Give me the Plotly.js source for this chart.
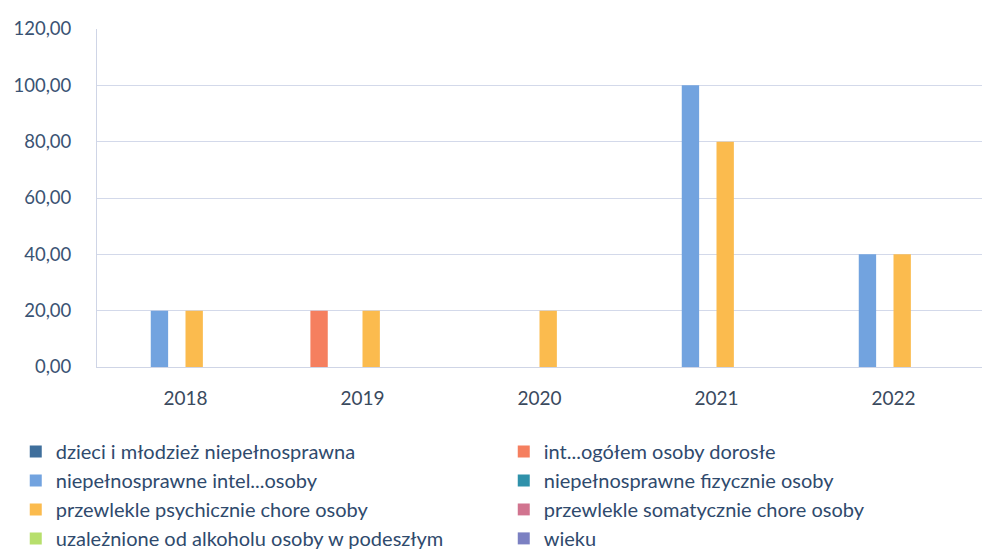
<!DOCTYPE html>
<html>
<head>
<meta charset="utf-8">
<script src="https://cdn.plot.ly/plotly-3.0.1.min.js"></script>
<style>html,body{margin:0;padding:0;background:#fff}#chart{width:982px;height:553px}</style>
</head>
<body>
<div id="chart"></div>
<script>
const years = ['2018', '2019', '2020', '2021', '2022'];
const seriesNames = [
  'dzieci i młodzież niepełnosprawna',
  'int...ogółem osoby dorosłe',
  'niepełnosprawne intel...osoby',
  'niepełnosprawne fizycznie osoby',
  'przewlekle psychicznie chore osoby',
  'przewlekle somatycznie chore osoby',
  'uzależnione od alkoholu osoby w podeszłym',
  'wieku'
];
const dzieci      = [0, 0, 0, 0, 0];
const ogolem      = [0, 20, 0, 0, 0];
const intel       = [20, 0, 0, 100, 40];
const fizycznie   = [0, 0, 0, 0, 0];
const psychicznie = [20, 20, 20, 80, 40];
const somatycznie = [0, 0, 0, 0, 0];
const alkohol     = [0, 0, 0, 0, 0];
const wieku       = [0, 0, 0, 0, 0];
const seriesValues = [dzieci, ogolem, intel, fizycznie, psychicznie, somatycznie, alkohol, wieku];
const colors = ['#3f6f9c', '#f57f5f', '#72a3df', '#2f91aa', '#fbbb4e', '#d1748f', '#b7df6c', '#7b80c2'];

const traces = seriesNames.map((name, i) => ({
  type: 'bar',
  name: name,
  x: years,
  y: seriesValues[i],
  marker: {color: colors[i], line: {width: 0}},
  hoverinfo: 'skip'
}));

const layout = {
  width: 982, height: 553,
  margin: {l: 97, r: 0, t: 29, b: 186, autoexpand: false},
  paper_bgcolor: '#ffffff', plot_bgcolor: '#ffffff',
  separators: ',.',
  font: {family: 'Lato, sans-serif', color: '#3a5373'},
  barmode: 'group',
  bargap: 0.215,
  bargroupgap: 0,
  showlegend: true,
  xaxis: {
    type: 'category',
    showgrid: false,
    showline: true, linecolor: '#cfd5e6', linewidth: 1,
    ticks: '',
    tickfont: {size: 19, color: '#3a4a5e'},
    ticklabelstandoff: 14,
    zeroline: false
  },
  yaxis: {
    range: [0, 120],
    dtick: 20,
    tickformat: '.2f',
    showgrid: true, gridcolor: '#d3d9ea', gridwidth: 1,
    showline: true, linecolor: '#cfd5e6', linewidth: 1,
    zeroline: false,
    ticks: '',
    tickfont: {size: 18.5, color: '#3a5373'},
    ticklabelstandoff: 21
  },
  legend: {
    orientation: 'h',
    xref: 'paper', yref: 'paper',
    x: -0.0918, y: -0.192, xanchor: 'left', yanchor: 'top',
    entrywidth: 443, entrywidthmode: 'pixels',
    font: {size: 20, color: '#2f4a6d'},
    traceorder: 'normal',
    bgcolor: 'rgba(0,0,0,0)'
  }
};

Plotly.newPlot('chart', traces, layout, {displayModeBar: false, staticPlot: true});
</script>
</body>
</html>
